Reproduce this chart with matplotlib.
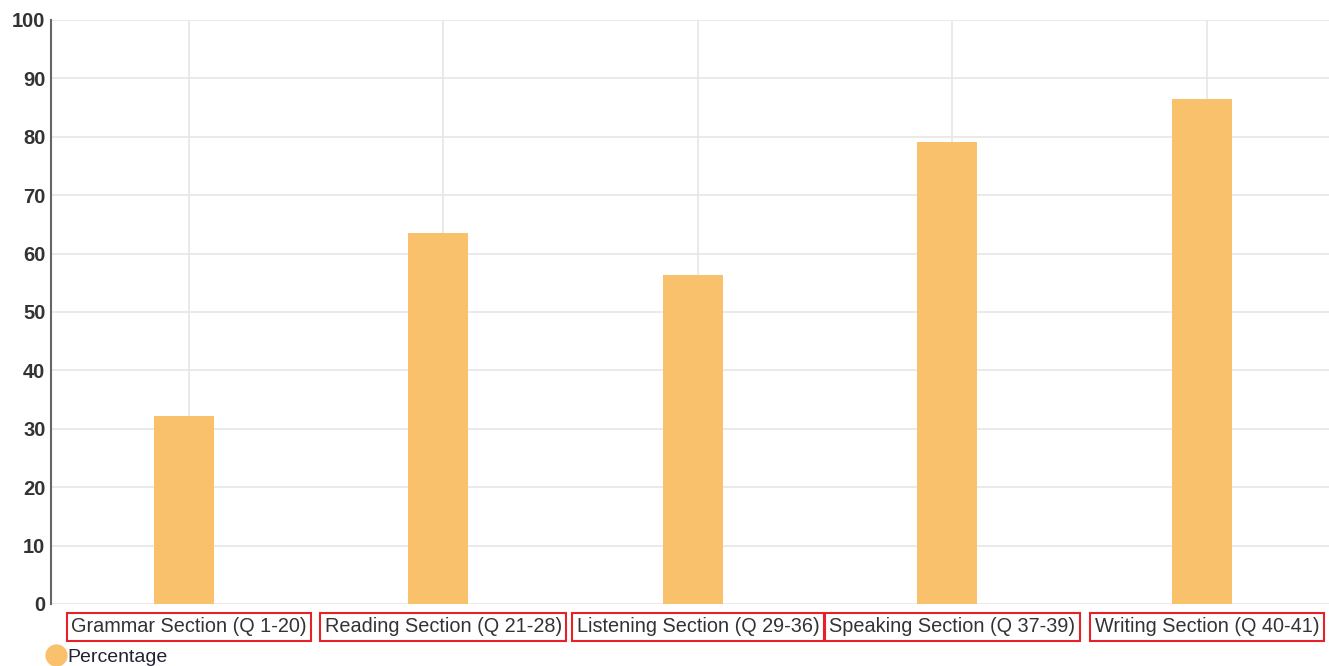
import matplotlib.pyplot as plt
import numpy as np

# data
categories = ["Grammar Section (Q 1-20)", "Reading Section (Q 21-28)",
              "Listening Section (Q 29-36)", "Speaking Section (Q 37-39)",
              "Writing Section (Q 40-41)"]
percentage = [32.2, 63.6, 56.3, 79.1, 86.5]

BAR_COLOR = "#f9c16b"

plt.rcParams['font.family'] = ['Liberation Sans', 'DejaVu Sans']

fig = plt.figure(figsize=(13.29, 6.66), dpi=100)
ax = fig.add_axes([0.0384, 0.0931, 0.9616, 0.877])

x = np.arange(len(categories))
ax.bar(x - 0.02, percentage, width=0.236, color=BAR_COLOR, zorder=3)

ax.set_ylim(0, 100)
ax.set_xlim(-0.542, 4.48)
ax.set_yticks(np.arange(0, 101, 10))
ax.set_xticks(x)
ax.set_xticklabels(categories)

ax.grid(True, color="#e6e6e6", linewidth=1.2, zorder=0)
for s in ["top", "right", "bottom"]:
    ax.spines[s].set_visible(False)
ax.spines["left"].set_color("#666666")
ax.spines["left"].set_linewidth(1.5)

ax.tick_params(axis="y", length=0, pad=4, labelsize=14.5, labelcolor="#333333")
for lab in ax.get_yticklabels():
    lab.set_fontweight("bold")
ax.tick_params(axis="x", length=0, pad=9.5, labelsize=14.3, labelcolor="#333333")
for lab in ax.get_xticklabels():
    lab.set_bbox(dict(boxstyle="square,pad=0.22", facecolor="white",
                      edgecolor="#e8202a", linewidth=1.5))

# legend
leg = fig.legend(handles=[plt.Line2D([], [], marker="o", linestyle="",
                                     markersize=15, color=BAR_COLOR)],
                 labels=["Percentage"], loc="lower left",
                 bbox_to_anchor=(0.02, -0.026), frameon=False,
                 fontsize=14, handletextpad=0.0, handlelength=1.2,
                 labelcolor="#222233")

fig.savefig("out.png", dpi=100)
